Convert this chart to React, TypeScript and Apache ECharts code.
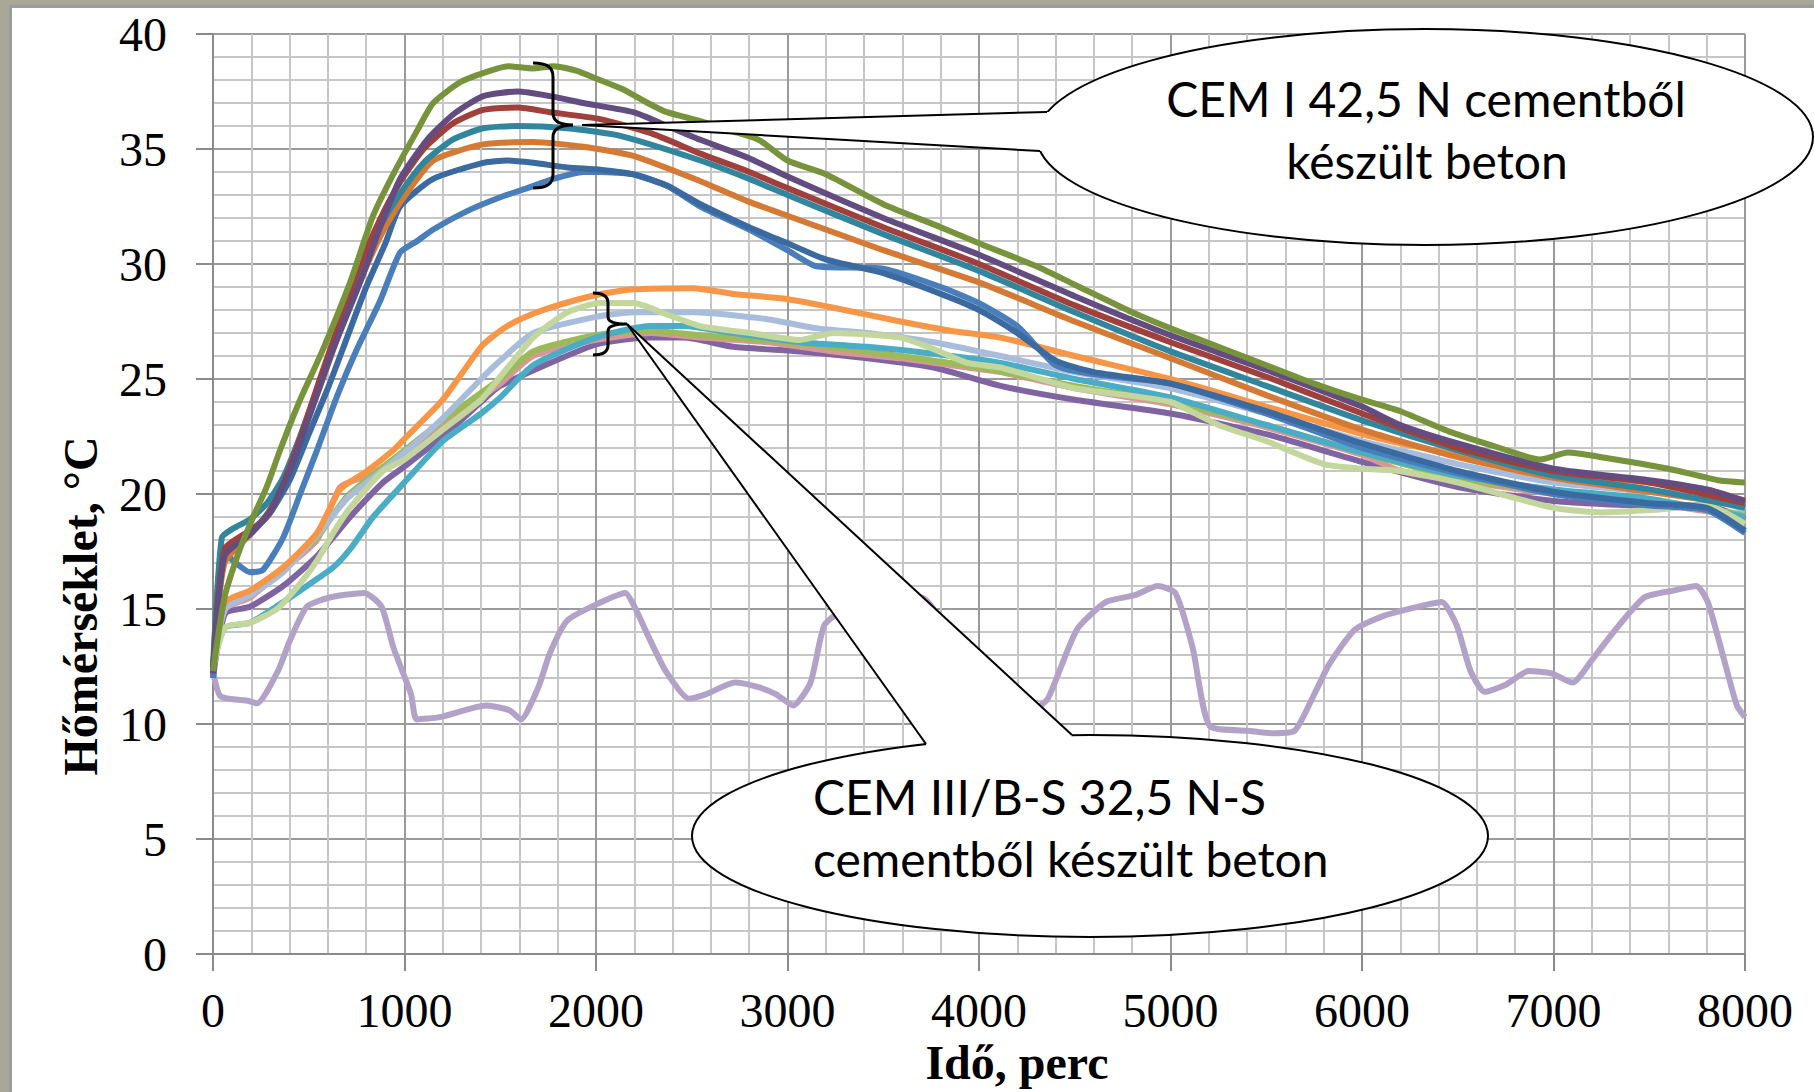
import React, { useEffect, useRef } from "react";
import * as echarts from "echarts";

const Y_TITLE = "Hőmérséklet, °C";
const X_TITLE = "Idő, perc";
const NOTE_1 = ["CEM I 42,5 N cementből", "készült beton"];
const NOTE_2 = ["CEM III/B-S 32,5 N-S", "cementből készült beton"];

// CEM I 42,5 N concretes  [time (perc), temperature (°C)]
const cemI_green = [[0,12.3],[60,15.5],[140,17.6],[210,19.0],[280,20.3],[350,21.9],[450,24.0],[575,26.3],[716,29.2],[836,32.1],[941,33.9],[1066,35.8],[1150,37.0],[1290,37.9],[1410,38.3],[1540,38.6],[1670,38.5],[1780,38.6],[1900,38.4],[2020,38.0],[2140,37.6],[2270,37.0],[2370,36.6],[2550,36.2],[2700,35.8],[2850,35.4],[3000,34.5],[3200,33.9],[3500,32.6],[3800,31.6],[4000,30.9],[4300,29.9],[4500,29.1],[4800,27.9],[5000,27.2],[5250,26.4],[5500,25.6],[5750,24.8],[6000,24.1],[6200,23.6],[6460,22.7],[6720,22.0],[6930,21.5],[7075,21.8],[7250,21.6],[7600,21.1],[7860,20.6],[8000,20.5]];
const cemI_purple = [[0,12.2],[60,17.3],[200,18.3],[300,19.3],[400,21.0],[500,23.3],[627,26.3],[768,29.2],[873,31.6],[977,33.7],[1118,35.4],[1254,36.5],[1411,37.3],[1590,37.5],[1760,37.3],[1934,37.0],[2195,36.6],[2372,36.0],[2545,35.4],[2800,34.6],[3000,33.8],[3500,32.0],[4000,30.4],[4500,28.6],[5000,26.9],[5500,25.4],[6000,23.8],[6200,23.0],[6500,22.2],[7000,21.1],[7500,20.6],[7800,20.2],[8000,19.7]];
const cemI_red = [[0,12.3],[60,17.6],[190,18.4],[280,19.0],[370,20.5],[450,22.3],[550,24.8],[650,27.2],[760,29.8],[870,31.9],[980,33.6],[1100,35.0],[1250,36.1],[1411,36.7],[1590,36.8],[1760,36.6],[2022,36.3],[2283,35.7],[2545,34.8],[2800,34.0],[3000,33.3],[3500,31.6],[4000,30.0],[4500,28.2],[5000,26.6],[5500,25.1],[6000,23.5],[6500,22.0],[7000,21.0],[7500,20.5],[8000,19.6]];
const cemI_teal = [[0,12.5],[46,18.1],[105,18.5],[193,18.9],[282,19.6],[366,20.7],[450,22.4],[550,24.7],[650,27.0],[760,29.6],[870,31.6],[980,33.1],[1100,34.4],[1250,35.4],[1411,35.9],[1590,36.0],[1850,35.9],[2111,35.6],[2545,34.5],[2800,33.7],[3000,33.0],[3500,31.3],[4000,29.7],[4500,27.9],[5000,26.2],[5500,24.7],[6000,23.2],[6500,21.9],[7000,20.8],[7500,20.2],[8000,19.4]];
const cemI_orange = [[0,12.3],[60,17.0],[190,18.2],[280,19.1],[370,20.6],[460,22.5],[560,24.7],[660,27.0],[770,29.3],[880,31.3],[980,32.7],[1150,34.5],[1411,35.2],[1672,35.3],[1934,35.1],[2195,34.7],[2545,33.6],[2800,32.7],[3000,32.1],[3500,30.6],[4000,29.2],[4500,27.5],[5000,25.9],[5500,24.3],[6000,22.8],[6500,21.6],[7000,20.7],[7500,20.1],[8000,19.5]];
const cemI_darkblue = [[0,12.2],[60,17.4],[200,18.3],[300,19.2],[400,20.6],[500,22.6],[600,24.6],[700,26.8],[800,29.0],[900,30.9],[977,32.5],[1150,33.7],[1411,34.4],[1536,34.5],[1672,34.4],[1850,34.2],[2022,34.1],[2195,33.9],[2372,33.4],[2545,32.6],[2800,31.6],[3000,30.9],[3200,30.2],[3500,29.6],[3800,28.7],[4000,28.0],[4200,27.0],[4400,25.8],[4600,25.3],[5000,24.8],[5500,23.6],[6000,22.2],[6500,21.0],[7000,20.1],[7500,19.6],[7800,19.4],[8000,18.4]];
const cemI_blue = [[0,12.0],[46,17.6],[105,17.1],[193,16.6],[261,16.7],[366,18.1],[455,20.0],[543,21.9],[650,24.3],[752,26.3],[873,28.4],[977,30.5],[1066,31.0],[1150,31.5],[1327,32.3],[1500,32.9],[1641,33.3],[1777,33.7],[1934,34.0],[2022,34.0],[2195,33.9],[2372,33.4],[2545,32.5],[2800,31.5],[3000,30.6],[3150,29.9],[3500,29.8],[3800,29.0],[4000,28.3],[4200,27.3],[4400,25.6],[4600,25.2],[5000,24.8],[5500,23.5],[6000,22.0],[6500,20.9],[7000,20.0],[7500,19.5],[7800,19.3],[8000,18.3]];

// CEM III/B-S 32,5 N-S concretes
const cemIII_orange = [[0,12.5],[63,15.3],[193,15.8],[366,16.8],[543,18.3],[664,20.2],[805,21.0],[941,21.9],[1000,22.4],[1200,24.1],[1400,26.4],[1500,27.1],[1604,27.6],[1761,28.1],[2000,28.65],[2195,28.9],[2508,28.95],[2717,28.7],[2978,28.5],[3240,28.1],[3590,27.5],[3851,27.1],[4112,26.8],[4500,26.0],[5000,25.0],[5500,23.8],[6000,22.6],[6200,22.2],[6500,21.7],[7000,20.9],[7500,20.5],[7800,20.2],[8000,19.7]];
const cemIII_lightblue = [[0,12.5],[63,15.0],[193,15.6],[366,16.6],[543,18.2],[700,19.8],[850,20.8],[1000,21.8],[1200,23.3],[1400,25.0],[1500,25.8],[1672,27.0],[2000,27.7],[2195,27.9],[2508,27.9],[2895,27.6],[3156,27.2],[3417,27.0],[3763,26.6],[4112,26.0],[4500,25.3],[5000,24.6],[5500,23.5],[6000,22.3],[6200,21.9],[6500,21.3],[7000,20.5],[7500,20.1],[7800,19.9],[8000,19.3]];
const cemIII_green = [[0,12.4],[63,15.2],[193,15.7],[366,16.8],[543,18.1],[700,19.9],[1000,21.9],[1200,23.2],[1500,25.0],[1672,26.2],[2000,26.9],[2283,27.1],[2545,26.9],[3000,26.6],[3500,26.1],[4000,25.5],[4500,24.7],[5000,24.0],[5500,23.0],[6000,21.8],[6500,20.7],[7000,20.1],[7500,19.7],[8000,19.1]];
const cemIII_cyan = [[0,12.6],[63,14.2],[193,14.4],[366,15.3],[507,16.1],[627,16.8],[716,17.6],[836,19.0],[977,20.3],[1200,22.3],[1400,23.5],[1500,24.2],[1672,25.6],[2000,26.8],[2283,27.3],[2456,27.3],[2717,27.0],[3067,26.6],[3417,26.4],[3763,26.1],[4112,25.7],[4500,25.0],[5000,24.2],[5500,23.0],[6000,21.8],[6500,20.8],[7000,20.2],[7500,19.8],[8000,19.0]];
const cemIII_pink = [[0,12.4],[63,15.0],[193,15.5],[366,16.7],[543,18.0],[664,20.3],[805,20.8],[1000,21.7],[1200,23.0],[1400,24.2],[1500,24.8],[1672,26.0],[2000,26.7],[2283,27.0],[2545,26.8],[2895,26.6],[3240,26.2],[3590,25.9],[3940,25.5],[4112,25.3],[4500,24.6],[5000,23.9],[5500,22.9],[6000,21.7],[6200,21.0],[6500,20.6],[7000,20.0],[7500,19.6],[8000,19.0]];
const cemIII_purple = [[0,12.0],[63,14.8],[193,15.1],[366,16.0],[543,17.3],[716,19.0],[888,20.5],[1000,21.2],[1200,22.5],[1400,24.0],[1500,24.7],[2000,26.5],[2283,26.8],[2456,26.8],[2717,26.4],[3067,26.2],[3417,25.9],[3763,25.5],[4112,24.7],[4500,24.1],[5000,23.5],[5500,22.6],[6000,21.4],[6500,20.3],[7000,19.7],[7500,19.5],[7800,19.5],[8000,18.9]];
const cemIII_lightgreen = [[0,12.4],[63,14.2],[193,14.4],[334,15.0],[455,16.1],[543,17.1],[627,18.3],[716,19.4],[888,21.0],[1000,21.5],[1200,22.8],[1400,24.1],[1500,25.1],[1672,26.8],[1850,27.9],[2022,28.3],[2195,28.3],[2372,27.8],[2545,27.3],[2806,27.0],[3067,26.7],[3240,27.0],[3590,26.8],[3763,26.3],[3940,25.7],[4112,25.5],[4500,24.6],[5000,24.0],[5250,23.0],[5500,22.3],[5800,21.3],[6000,21.1],[6200,21.0],[6500,20.5],[7000,19.4],[7250,19.2],[7500,19.3],[7800,19.5],[8000,18.7]];

// ambient air temperature
const ambient = [[0,12.3],[40,11.2],[187,11.0],[230,10.9],[339,12.3],[400,13.6],[490,15.1],[610,15.5],[790,15.7],[880,15.1],[943,13.3],[1034,11.3],[1064,10.2],[1185,10.3],[1427,10.8],[1548,10.6],[1608,10.2],[1699,11.6],[1760,13.1],[1850,14.5],[2001,15.2],[2153,15.7],[2201,15.1],[2274,13.8],[2364,12.3],[2485,11.1],[2576,11.3],[2727,11.8],[2848,11.6],[2939,11.3],[3030,10.8],[3120,11.8],[3193,14.3],[3300,15.0],[3500,15.3],[3700,15.5],[3800,14.5],[3900,12.0],[4000,10.3],[4200,10.5],[4300,10.7],[4360,11.1],[4511,14.1],[4662,15.3],[4813,15.6],[4934,16.0],[5025,15.7],[5116,13.3],[5206,9.9],[5418,9.7],[5539,9.6],[5648,9.7],[5751,11.3],[5829,12.6],[5962,14.1],[6114,14.7],[6295,15.1],[6416,15.3],[6494,14.3],[6567,12.3],[6640,11.4],[6749,11.7],[6870,12.3],[6990,12.2],[7099,11.8],[7202,12.8],[7323,14.1],[7474,15.5],[7625,15.8],[7746,16.0],[7806,15.3],[7897,12.6],[7958,10.8],[8000,10.3]];

const SERIES: [string, number[][], string][] = [
  ["ambient", ambient, "#B3A2C7"],
  ["CEM III 1", cemIII_purple, "#8064A2"],
  ["CEM III 2", cemIII_pink, "#D99694"],
  ["CEM III 3", cemIII_green, "#9BBB59"],
  ["CEM III 4", cemIII_cyan, "#4BACC6"],
  ["CEM III 5", cemIII_lightblue, "#A8BDDC"],
  ["CEM III 6", cemIII_lightgreen, "#C3D69B"],
  ["CEM III 7", cemIII_orange, "#F79646"],
  ["CEM I 1", cemI_blue, "#4A7EBB"],
  ["CEM I 2", cemI_darkblue, "#3A6AA0"],
  ["CEM I 3", cemI_orange, "#D57A34"],
  ["CEM I 4", cemI_teal, "#31859C"],
  ["CEM I 5", cemI_red, "#A0403D"],
  ["CEM I 6", cemI_purple, "#634C80"],
  ["CEM I 7", cemI_green, "#77933C"],
];

const BRACE_1 = "M0,0 C14,0 20,4 20,14 L20,50 C20,58 26,62 40,62 C26,62 20,66 20,74 L20,111 C20,121 14,125 0,125";
const BRACE_2 = "M0,0 C10,0 15,3 15,10 L15,24 C15,28 20,31 34,31 C20,31 15,34 15,38 L15,52 C15,59 10,62 0,62";

function ellipseTop(cx: number, cy: number, rx: number, ry: number, x: number) {
  const k = (x - cx) / rx;
  return cy - ry * Math.sqrt(Math.max(0, 1 - k * k));
}

export default function App() {
  const ref = useRef<HTMLDivElement>(null);
  useEffect(() => {
    echarts.graphic.registerShape("brace1", echarts.graphic.extendPath(BRACE_1, {}));
    echarts.graphic.registerShape("brace2", echarts.graphic.extendPath(BRACE_2, {}));
    const chart = echarts.init(ref.current!, null, { renderer: "svg" });
    const serif = "Liberation Serif";
    const calib = "Lato";

    // callout 1
    const e1 = { cx: 1425, cy: 137, rx: 388, ry: 108 };
    const a1 = [582, 125];
    const b1a = [1047, 112];
    const b1b = [1040, 151];
    // callout 2
    const e2 = { cx: 1090, cy: 836, rx: 398, ry: 101 };
    const a2 = [627, 324];
    const b2a = [926, ellipseTop(e2.cx, e2.cy, e2.rx, e2.ry, 926)];
    const b2b = [1072, ellipseTop(e2.cx, e2.cy, e2.rx, e2.ry, 1072)];

    const lineSt = { stroke: "#000", lineWidth: 2 };

    const option: any = {
      animation: false,
      backgroundColor: "transparent",
      grid: { left: 213, right: 69, top: 34, bottom: 138, containLabel: false },
      xAxis: {
        type: "value", min: 0, max: 8000, interval: 1000,
        axisLine: { show: true, onZero: false, lineStyle: { color: "#8a8a8a", width: 2 } },
        axisTick: { show: true, length: 17, lineStyle: { color: "#8a8a8a", width: 2 } },
        axisLabel: { fontFamily: serif, fontSize: 48, color: "#000", margin: 32, formatter: (v: number) => String(v) },
        splitLine: { show: true, lineStyle: { color: "#9a9a9a", width: 2 } },
        minorTick: { show: false, splitNumber: 5 },
        minorSplitLine: { show: true, lineStyle: { color: "#c6c6c6", width: 2 } },
      },
      yAxis: {
        type: "value", min: 0, max: 40, interval: 5,
        axisLine: { show: true, lineStyle: { color: "#8a8a8a", width: 2 } },
        axisTick: { show: true, length: 17, lineStyle: { color: "#8a8a8a", width: 2 } },
        axisLabel: { fontFamily: serif, fontSize: 48, color: "#000", margin: 46, formatter: (v: number) => String(v) },
        splitLine: { show: true, lineStyle: { color: "#9a9a9a", width: 2 } },
        minorTick: { show: false, splitNumber: 5 },
        minorSplitLine: { show: true, lineStyle: { color: "#c6c6c6", width: 2 } },
      },
      series: SERIES.map(([name, data, color]) => ({
        name, type: "line", data, showSymbol: false, symbol: "none", smooth: 0.2,
        lineStyle: { color, width: 6 }, itemStyle: { color }, silent: true,
      })),
      graphic: [
        { type: "text", x: 80, y: 606, rotation: Math.PI / 2, z: 100,
          style: { text: Y_TITLE, font: `bold 48px "${serif}"`, fill: "#000", align: "center", verticalAlign: "middle" } },
        { type: "text", x: 1017, y: 1062, z: 100,
          style: { text: X_TITLE, font: `bold 48px "${serif}"`, fill: "#000", align: "center", verticalAlign: "middle" } },
        // braces
        { type: "brace1", x: 533, y: 63, z: 100, style: { fill: "none", stroke: "#000", lineWidth: 3 } },
        { type: "brace2", x: 593, y: 293, z: 100, style: { fill: "none", stroke: "#000", lineWidth: 3 } },
        // callout 1
        { type: "ellipse", z: 100, shape: e1, style: { fill: "#fff", stroke: "#000", lineWidth: 2 } },
        { type: "polygon", z: 101, shape: { points: [a1, b1a, [b1a[0] + 30, b1a[1] + 2], [b1b[0] + 30, b1b[1] - 2], b1b] }, style: { fill: "#fff" } },
        { type: "line", z: 102, shape: { x1: a1[0], y1: a1[1], x2: b1a[0], y2: b1a[1] }, style: lineSt },
        { type: "line", z: 102, shape: { x1: a1[0], y1: a1[1], x2: b1b[0], y2: b1b[1] }, style: lineSt },
        { type: "text", x: 1426, y: 98, z: 103, style: { text: NOTE_1[0], font: `48px "${calib}"`, fill: "#000", align: "center", verticalAlign: "middle" } },
        { type: "text", x: 1427, y: 160, z: 103, style: { text: NOTE_1[1], font: `48px "${calib}"`, fill: "#000", align: "center", verticalAlign: "middle" } },
        // callout 2
        { type: "ellipse", z: 100, shape: e2, style: { fill: "#fff", stroke: "#000", lineWidth: 2 } },
        { type: "polygon", z: 101, shape: { points: [a2, b2a, [b2a[0] + 5, b2a[1] + 14], [b2b[0] - 5, b2b[1] + 14], b2b] }, style: { fill: "#fff" } },
        { type: "line", z: 102, shape: { x1: a2[0], y1: a2[1], x2: b2a[0], y2: b2a[1] }, style: lineSt },
        { type: "line", z: 102, shape: { x1: a2[0], y1: a2[1], x2: b2b[0], y2: b2b[1] }, style: lineSt },
        { type: "text", x: 813, y: 796, z: 103, style: { text: NOTE_2[0], font: `48px "${calib}"`, fill: "#000", align: "left", verticalAlign: "middle" } },
        { type: "text", x: 813, y: 858, z: 103, style: { text: NOTE_2[1], font: `48px "${calib}"`, fill: "#000", align: "left", verticalAlign: "middle" } },
      ],
    };
    chart.setOption(option);
    return () => chart.dispose();
  }, []);
  return (
    <div style={{ position: "fixed", left: 0, top: 0, width: 1814, height: 1092, background: "#a9a797", overflow: "hidden" }}>
      <div style={{ position: "absolute", left: 9, top: 5, width: 1830, height: 1110, background: "#fff", borderLeft: "3px solid #9b9b9b", borderTop: "3px solid #9b9b9b" }} />
      <div ref={ref} style={{ position: "absolute", left: 0, top: 0, width: 1814, height: 1092 }} />
    </div>
  );
}
